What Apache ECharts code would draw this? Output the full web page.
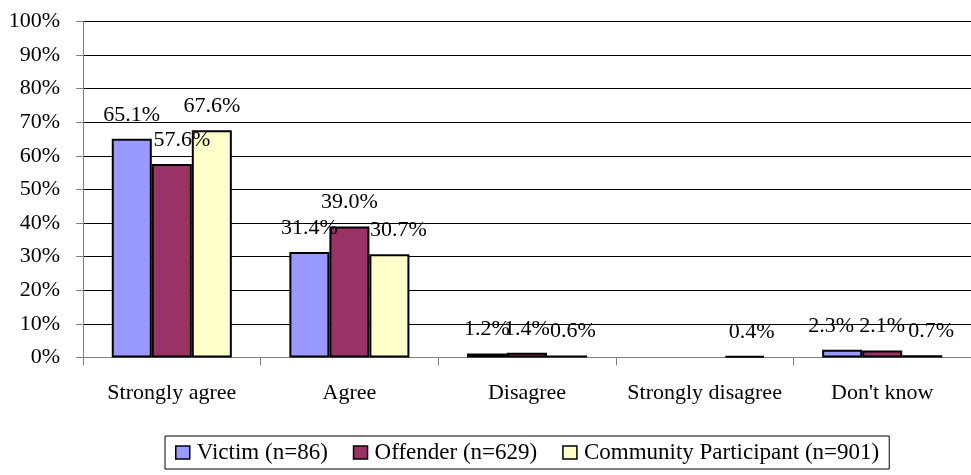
<!DOCTYPE html>
<html>
<head>
<meta charset="utf-8">
<title>Responses by participant type</title>
<script src="https://cdn.jsdelivr.net/npm/echarts@6/dist/echarts.min.js"></script>
<style>
  html, body { margin: 0; padding: 0; background: #fff; }
  #chart { width: 971px; height: 475px; }
</style>
</head>
<body>
<div id="chart"></div>
<script>
// Response categories along the x axis
const categories = ['Strongly agree', 'Agree', 'Disagree', 'Strongly disagree', "Don't know"];

// Percent of each group giving each response ('-' = no response recorded)
const victim    = [65.1, 31.4, 1.2, '-', 2.3];
const offender  = [57.6, 39.0, 1.4, '-', 2.1];
const community = [67.6, 30.7, 0.6, 0.4, 0.7];

const seriesNames = ['Victim (n=86)', 'Offender (n=629)', 'Community Participant (n=901)'];

// Y axis ticks: 0% to 100% in steps of 10
const yMin = 0, yMax = 100, yStep = 10;

// ---- styling ----
const FONT = '"Liberation Serif", "Times New Roman", serif';
const COLORS = ['#9999FF', '#993366', '#FFFFCC'];
// small horizontal nudges for crowded value labels [series][category]
const LABEL_NUDGE = [
  [0, 0, 0, 0, -11],
  [10, 0, 0, 0, 0],
  [0, 9, 6, 7, 9]
];

function makeSeries(name, values, idx) {
  return {
    name: name,
    type: 'bar',
    barGap: '0%',
    barCategoryGap: '32.4%',
    itemStyle: { color: COLORS[idx], borderColor: '#000', borderWidth: 2 },
    label: {
      show: true,
      position: 'top',
      distance: 13,
      color: '#000',
      fontFamily: FONT,
      fontSize: 22,
      formatter: p => Number(p.value).toFixed(1) + '%'
    },
    labelLayout: p => ({ dx: LABEL_NUDGE[idx][p.dataIndex] }),
    emphasis: { disabled: true },
    data: values
  };
}

const chart = echarts.init(document.getElementById('chart'), null, { renderer: 'canvas' });
chart.setOption({
  animation: false,
  backgroundColor: '#fff',
  grid: { left: 83, right: 0, top: 21.5, bottom: 117.5, containLabel: false },
  legend: {
    left: 165,
    top: 436,
    padding: [5, 10, 5, 10],
    borderColor: '#000',
    borderWidth: 1,
    itemWidth: 14,
    itemHeight: 13,
    itemGap: 25,
    icon: 'rect',
    itemStyle: { borderColor: '#000', borderWidth: 1.5 },
    textStyle: { fontFamily: FONT, fontSize: 23, color: '#000', padding: [0, 0, 0, 2] },
    selectedMode: false,
    data: seriesNames
  },
  xAxis: {
    type: 'category',
    data: categories,
    axisLine: { show: true, lineStyle: { color: '#808080', width: 1 } },
    axisTick: { show: true, length: 8, alignWithLabel: false, lineStyle: { color: '#808080' } },
    axisLabel: { fontFamily: FONT, fontSize: 22, color: '#000', margin: 25, interval: 0 },
    splitLine: { show: false }
  },
  yAxis: {
    type: 'value',
    min: yMin,
    max: yMax,
    interval: yStep,
    axisLine: { show: true, lineStyle: { color: '#808080', width: 1 } },
    axisTick: { show: true, length: 7, inside: false, lineStyle: { color: '#808080' } },
    axisLabel: { fontFamily: FONT, fontSize: 22, color: '#000', margin: 23, formatter: '{value}%' },
    splitLine: { show: true, lineStyle: { color: '#000', width: 1 } }
  },
  series: [
    makeSeries(seriesNames[0], victim, 0),
    makeSeries(seriesNames[1], offender, 1),
    makeSeries(seriesNames[2], community, 2)
  ]
});
</script>
</body>
</html>
